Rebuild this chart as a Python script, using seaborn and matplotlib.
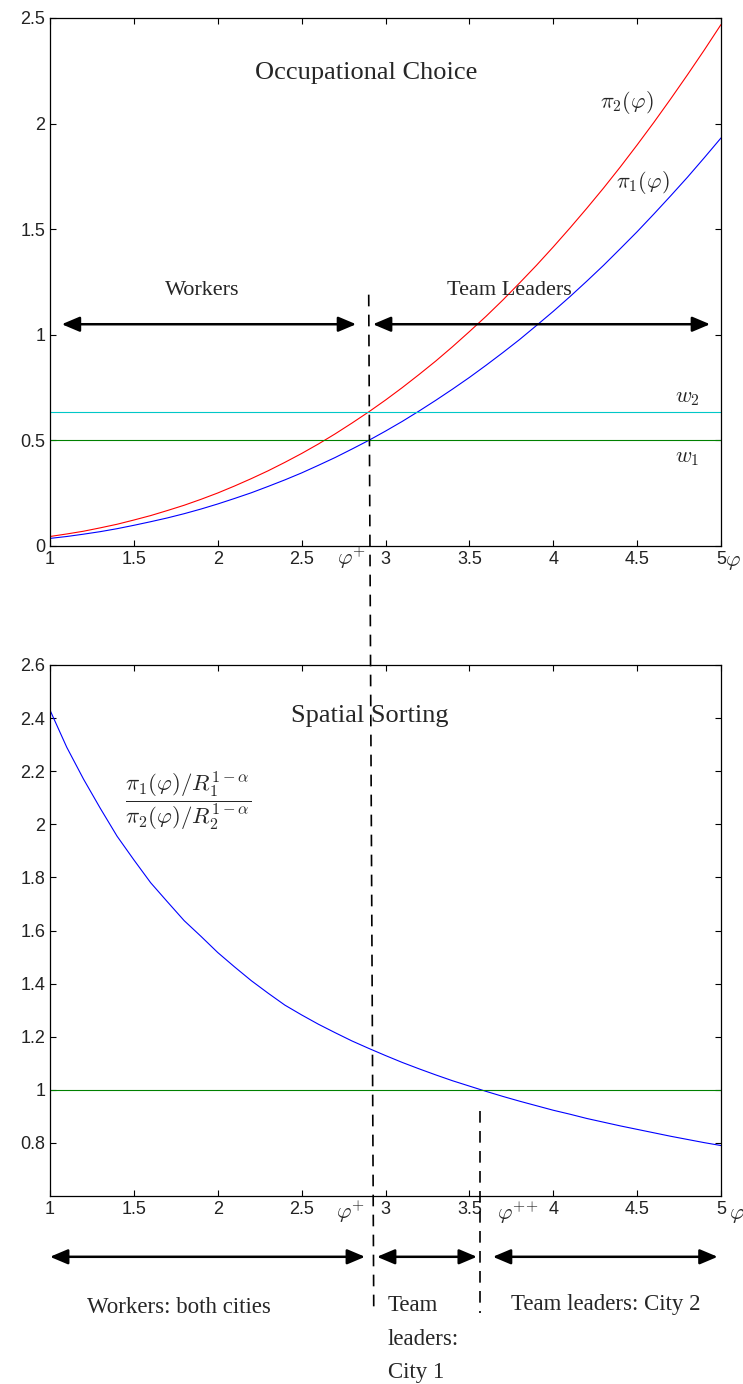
import numpy as np
import pandas as pd
import seaborn as sns
import matplotlib
matplotlib.use("Agg")
import matplotlib.pyplot as plt
from matplotlib.ticker import FormatStrFormatter

# ---------------- data ----------------
phi = [1.0, 1.1, 1.2, 1.3, 1.4, 1.5, 1.6, 1.7, 1.8, 1.9,
       2.0, 2.1, 2.2, 2.3, 2.4, 2.5, 2.6, 2.7, 2.8, 2.9,
       3.0, 3.1, 3.2, 3.3, 3.4, 3.5, 3.6, 3.7, 3.8, 3.9,
       4.0, 4.1, 4.2, 4.3, 4.4, 4.5, 4.6, 4.7, 4.8, 4.9, 5.0]
pi1 = [0.036, 0.045, 0.056, 0.068, 0.082, 0.098, 0.115, 0.133, 0.153, 0.175,
       0.199, 0.225, 0.252, 0.282, 0.313, 0.346, 0.382, 0.419, 0.459, 0.500,
       0.544, 0.590, 0.639, 0.690, 0.743, 0.798, 0.856, 0.916, 0.978, 1.044,
       1.111, 1.181, 1.254, 1.329, 1.408, 1.488, 1.572, 1.658, 1.746, 1.838, 1.932]
pi2 = [0.045, 0.057, 0.070, 0.086, 0.103, 0.123, 0.144, 0.168, 0.193, 0.221,
       0.251, 0.284, 0.319, 0.356, 0.396, 0.438, 0.483, 0.531, 0.582, 0.635,
       0.691, 0.750, 0.812, 0.876, 0.944, 1.015, 1.088, 1.165, 1.246, 1.329,
       1.416, 1.506, 1.599, 1.695, 1.795, 1.899, 2.006, 2.117, 2.231, 2.348, 2.469]
ratio = [2.430, 2.290, 2.170, 2.060, 1.955, 1.866, 1.780, 1.708, 1.637, 1.578,
         1.517, 1.463, 1.411, 1.364, 1.319, 1.282, 1.247, 1.215, 1.184, 1.156,
         1.129, 1.103, 1.079, 1.056, 1.034, 1.014, 0.994, 0.975, 0.957, 0.940,
         0.923, 0.908, 0.892, 0.878, 0.864, 0.851, 0.838, 0.825, 0.813, 0.801, 0.790]
w1 = 0.5
w2 = 0.635
parity = 1.0
phi_plus = 2.9
phi_pp = 3.565

top_xticks = [1, 1.5, 2, 2.5, 3, 3.5, 4, 4.5, 5]
top_yticks = [0, 0.5, 1, 1.5, 2, 2.5]
bot_yticks = [0.8, 1, 1.2, 1.4, 1.6, 1.8, 2, 2.2, 2.4, 2.6]

df = pd.DataFrame({"phi": phi, "pi1": pi1, "pi2": pi2, "ratio": ratio})

# ---------------- style ----------------
sns.set_theme(style="ticks")
plt.rcParams.update({
    "font.family": ["Liberation Sans", "DejaVu Sans"],
    "mathtext.fontset": "cm",
    "axes.edgecolor": "black",
    "axes.linewidth": 0.9,
    "xtick.direction": "in",
    "ytick.direction": "in",
    "xtick.top": True,
    "ytick.right": True,
    "xtick.major.size": 4.5,
    "ytick.major.size": 4.5,
    "xtick.major.width": 0.8,
    "ytick.major.width": 0.8,
    "xtick.labelsize": 13,
    "ytick.labelsize": 13,
    "xtick.color": "black",
    "ytick.color": "black",
    "xtick.labelcolor": "#222222",
    "ytick.labelcolor": "#222222",
})

W, H = 743, 1384
fig = plt.figure(figsize=(W / 100, H / 100), dpi=100)
fig.patch.set_facecolor("white")

def px_axes(l, t, r, b):
    return fig.add_axes([l / W, 1 - b / H, (r - l) / W, (b - t) / H])

ax1 = px_axes(50, 18, 721, 546)
ax2 = px_axes(50, 665, 721, 1196)

serif = ["Liberation Serif", "DejaVu Serif"]
lw = 0.8
dash = (0, (7, 5))

# ---------------- top panel ----------------
sns.lineplot(data=df, x="phi", y="pi2", ax=ax1, color="#ff0000", lw=lw)
sns.lineplot(data=df, x="phi", y="pi1", ax=ax1, color="#0000ff", lw=lw)
ax1.axhline(w2, color="#00c8c8", lw=lw)
ax1.axhline(w1, color="#008000", lw=lw)
ax1.set_xlim(1, 5)
ax1.set_ylim(0, 2.5)
ax1.set_xticks(top_xticks)
ax1.set_yticks(top_yticks)
ax1.xaxis.set_major_formatter(FormatStrFormatter("%g"))
ax1.yaxis.set_major_formatter(FormatStrFormatter("%g"))
ax1.set_xlabel("")
ax1.set_ylabel("")

ax1.text(2.884, 2.24, "Occupational Choice", family=serif, fontsize=19, ha="center", va="center")
ax1.text(1.906, 1.212, "Workers", family=serif, fontsize=16, ha="center", va="center")
ax1.text(3.736, 1.212, "Team Leaders", family=serif, fontsize=16, ha="center", va="center")
ax1.text(4.44, 2.10, r"$\pi_2(\varphi)$", fontsize=16, ha="center", va="center")
ax1.text(4.535, 1.72, r"$\pi_1(\varphi)$", fontsize=16, ha="center", va="center")
ax1.text(4.80, 0.705, r"$w_2$", fontsize=16, ha="center", va="center")
ax1.text(4.80, 0.417, r"$w_1$", fontsize=16, ha="center", va="center")
ax1.text(2.80, -0.055, r"$\varphi^{+}$", fontsize=16, ha="center", va="center", clip_on=False)
ax1.text(5.07, -0.075, r"$\varphi$", fontsize=16, ha="center", va="center", clip_on=False)

arrow_kw = dict(arrowstyle="<|-|>,head_length=0.9,head_width=0.38", color="black", lw=1.8,
                shrinkA=0, shrinkB=0)
ax1.annotate("", xy=(1.07, 1.05), xytext=(2.825, 1.05), arrowprops=arrow_kw)
ax1.annotate("", xy=(2.925, 1.05), xytext=(4.935, 1.05), arrowprops=arrow_kw)

# ---------------- bottom panel ----------------
sns.lineplot(data=df, x="phi", y="ratio", ax=ax2, color="#0000ff", lw=lw)
ax2.axhline(parity, color="#008000", lw=lw)
ax2.set_xlim(1, 5)
ax2.set_ylim(0.6, 2.6)
ax2.set_xticks(top_xticks)
ax2.set_yticks(bot_yticks)
ax2.xaxis.set_major_formatter(FormatStrFormatter("%g"))
ax2.yaxis.set_major_formatter(FormatStrFormatter("%g"))
ax2.set_xlabel("")
ax2.set_ylabel("")

ax2.text(2.908, 2.408, "Spatial Sorting", family=serif, fontsize=19, ha="center", va="center")
ax2.text(1.823, 2.09,
         r"$\dfrac{\pi_1(\varphi)/R_1^{1-\alpha}}{\pi_2(\varphi)/R_2^{1-\alpha}}$",
         fontsize=16.5, ha="center", va="center")
ax2.text(2.79, 0.54, r"$\varphi^{+}$", fontsize=16, ha="center", va="center", clip_on=False)
ax2.text(3.79, 0.536, r"$\varphi^{{+}{+}}$", fontsize=16, ha="center", va="center", clip_on=False)
ax2.text(5.095, 0.53, r"$\varphi$", fontsize=16, ha="center", va="center", clip_on=False)

ya = 0.371
ax2.annotate("", xy=(1.0, ya), xytext=(2.878, ya), arrowprops=arrow_kw, annotation_clip=False)
ax2.annotate("", xy=(2.949, ya), xytext=(3.545, ya), arrowprops=arrow_kw, annotation_clip=False)
ax2.annotate("", xy=(3.64, ya), xytext=(4.98, ya), arrowprops=arrow_kw, annotation_clip=False)

ax2.text(1.77, 0.18, "Workers: both cities", family=serif, fontsize=16.5, ha="center", va="center", clip_on=False)
ax2.text(4.31, 0.19, "Team leaders: City 2", family=serif, fontsize=16.5, ha="center", va="center", clip_on=False)
ax2.text(3.015, 0.228, "Team\nleaders:\nCity 1", family=serif, fontsize=16.5, ha="left", va="top",
         linespacing=1.8, clip_on=False)

# dashed threshold lines: phi+ runs from the top panel down below the bottom panel
top_pt_disp = ax1.transData.transform((phi_plus, 1.19))
top_in_ax2 = ax2.transData.inverted().transform(top_pt_disp)
ax2.plot([top_in_ax2[0], phi_plus + 0.03], [top_in_ax2[1], 0.16],
         color="black", lw=1.2, linestyle=dash, clip_on=False, zorder=5)
ax2.plot([phi_pp, phi_pp], [0.92, 0.16], color="black", lw=1.2, linestyle=dash,
         clip_on=False, zorder=5)

fig.savefig("out.png", dpi=100, facecolor="white")
